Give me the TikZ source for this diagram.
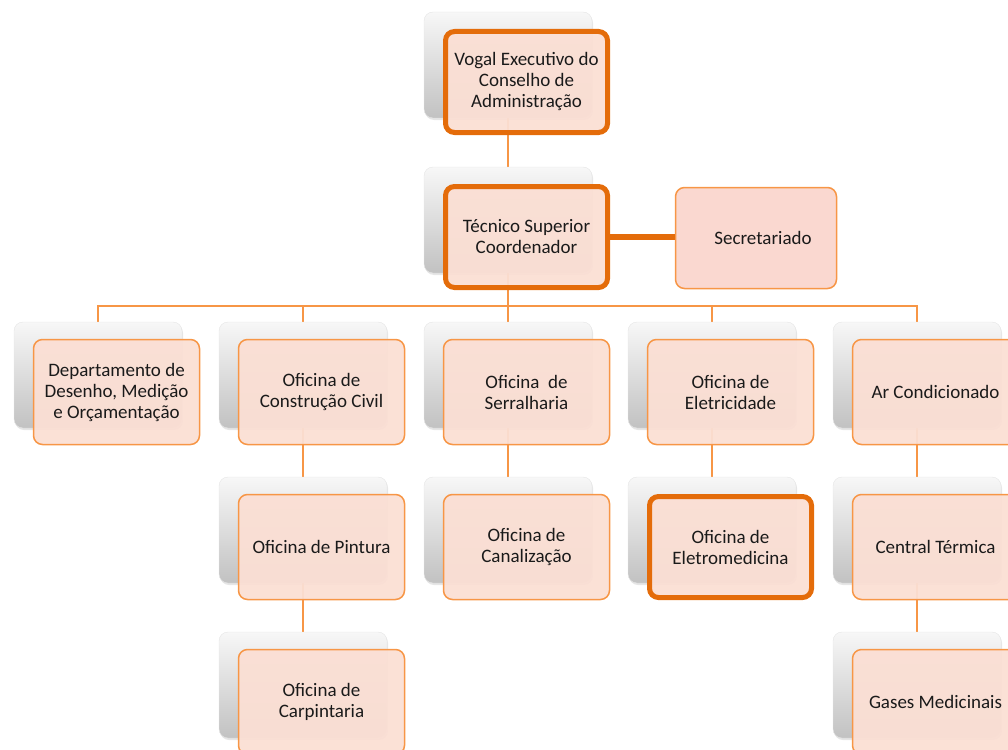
\documentclass[tikz,border=0pt]{standalone}
\usepackage{fontspec}
\setmainfont{Carlito}
\usetikzlibrary{backgrounds,shadows}
\definecolor{peach}{HTML}{FBDFD4}
\definecolor{rose}{HTML}{FAD6CD}
\definecolor{lightorange}{HTML}{F79646}
\definecolor{darkorange}{HTML}{E46C0A}
\definecolor{ink}{HTML}{1A1A1A}

\begin{document}
\begin{tikzpicture}[x=1pt,y=-1pt,
    font=\fontsize{19}{21}\selectfont,
    backbox/.style={rectangle,rounded corners=9pt,minimum width=168pt,minimum height=106pt,
      top color=white!97!black,bottom color=white!76!black,draw=white!90!black,line width=0.4pt,
      drop shadow={opacity=0.2,shadow xshift=1pt,shadow yshift=-2pt}},
    unit/.style={rectangle,rounded corners=9pt,minimum width=166pt,minimum height=105pt,align=center,
      fill=peach,fill opacity=0.95,text opacity=1,text=ink,draw=lightorange,line width=1.5pt},
    boss/.style={unit,minimum width=162pt,minimum height=101pt,draw=darkorange,line width=5pt},
    link/.style={draw=lightorange,line width=1.5pt}]
            \useasboundingbox (0,0) rectangle (1008,749);
            \clip (0,0) rectangle (1008,749);
            % grey cards behind the boxes
            \node[backbox] (s-vogal) at (508,65) {};
            \node[backbox] (s-tec) at (508,220) {};
            \node[backbox] (s-dep) at (98,375) {};
            \node[backbox] (s-civil) at (303,375) {};
            \node[backbox] (s-serr) at (508,375) {};
            \node[backbox] (s-elet) at (712,375) {};
            \node[backbox] (s-ar) at (917,375) {};
            \node[backbox] (s-pint) at (303,530) {};
            \node[backbox] (s-canal) at (508,530) {};
            \node[backbox] (s-eletmed) at (712,530) {};
            \node[backbox] (s-central) at (917,530) {};
            \node[backbox] (s-carp) at (303,685) {};
            \node[backbox] (s-gases) at (917,685) {};
            % boxes
            \node[boss] (vogal) at ([shift={(18.5,17)}]s-vogal) {Vogal Executivo do\\Conselho de\\Administração};
            \node[boss] (tec) at ([shift={(18.5,17)}]s-tec) {Técnico Superior\\Coordenador};
            \node[unit,fill=rose,minimum width=161pt,minimum height=101pt] (sec) at (756,238) {\hspace*{14pt}Secretariado};
            \node[unit] (dep) at ([shift={(18.5,17)}]s-dep) {Departamento de\\Desenho, Medição\\e Orçamentação};
            \node[unit] (civil) at ([shift={(18.5,17)}]s-civil) {Oficina de\\Construção Civil};
            \node[unit] (serr) at ([shift={(18.5,17)}]s-serr) {Oficina\ \ de\\Serralharia};
            \node[unit] (elet) at ([shift={(18.5,17)}]s-elet) {Oficina de\\Eletricidade};
            \node[unit] (ar) at ([shift={(18.5,17)}]s-ar) {Ar Condicionado};
            \node[unit] (pint) at ([shift={(18.5,17)}]s-pint) {Oficina de Pintura};
            \node[unit] (canal) at ([shift={(18.5,17)}]s-canal) {Oficina de\\Canalização};
            \node[boss] (eletmed) at ([shift={(18.5,17)}]s-eletmed) {Oficina de\\Eletromedicina};
            \node[unit] (central) at ([shift={(18.5,17)}]s-central) {Central Térmica};
            \node[unit] (carp) at ([shift={(18.5,17)}]s-carp) {Oficina de\\Carpintaria};
            \node[unit] (gases) at ([shift={(18.5,17)}]s-gases) {Gases Medicinais};
            \coordinate (bus) at (0,306);
            \begin{pgfonlayer}{background}
            \draw[link] (s-vogal) -- (s-tec);
            \draw[link] (s-tec) -- (s-tec |- bus) -| (s-dep);
            \draw[link] (s-tec |- bus) -| (s-civil);
            \draw[link] (s-tec |- bus) -- (s-serr);
            \draw[link] (s-tec |- bus) -| (s-elet);
            \draw[link] (s-tec |- bus) -| (s-ar);
            \draw[link] (s-civil) -- (s-pint) -- (s-carp);
            \draw[link] (s-serr) -- (s-canal);
            \draw[link] (s-elet) -- (s-eletmed);
            \draw[link] (s-ar) -- (s-central) -- (s-gases);
            \end{pgfonlayer}
            \draw[darkorange,line width=6.5pt] (tec.east) -- (tec.east -| sec.west);
        \end{tikzpicture}
\end{document}
